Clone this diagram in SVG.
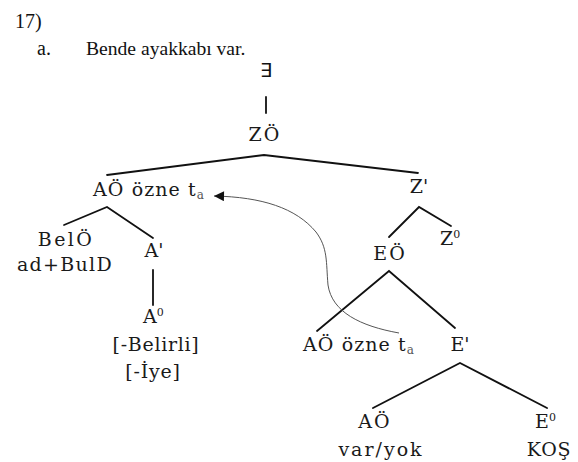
<svg xmlns="http://www.w3.org/2000/svg" width="578" height="462" viewBox="0 0 578 462">
  <style>
    .edge { stroke: #111; stroke-width: 1.8; fill: none; stroke-linecap: round; }
    .move { stroke: #555; stroke-width: 1; fill: none; }
  </style>
  <defs>
    <marker id="tip" viewBox="0 0 10 10" refX="10" refY="5" markerWidth="12" markerHeight="10" markerUnits="userSpaceOnUse" orient="auto">
      <path d="M0,0 L10,5 L0,10 Z" fill="#111"/>
    </marker>
  </defs>

  <rect width="578" height="462" fill="#fff"/>

  <!-- example number and sentence -->
  <g id="example" fill="#111">
    <text x="15" y="28" font-family="Liberation Serif, serif" font-size="20">17)</text>
    <text x="37" y="55" font-family="Liberation Serif, serif" font-size="20">a.</text>
    <text x="86" y="55" font-family="Liberation Serif, serif" font-size="19.6">Bende ayakkabı var.</text>
  </g>

  <!-- tree branches -->
  <g id="edges">
    <line class="edge" x1="266" y1="97" x2="266" y2="113"/>
    <polyline class="edge" points="107,175 264,155 418,173"/>
    <polyline class="edge" points="64,225 107,207 153,238"/>
    <line class="edge" x1="153" y1="270" x2="153" y2="305"/>
    <polyline class="edge" points="389,237 419,207 451,226"/>
    <polyline class="edge" points="317,331 389,271 455,328"/>
    <polyline class="edge" points="373,408 460,363 547,408"/>
    <!-- subject movement -->
    <path class="move" marker-end="url(#tip)" d="M399,333 C360,326 332,312 328,285 C326,262 328,248 316,232 C296,208 262,197 214,196"/>
  </g>

  <g id="exist">
    <text x="266" y="77" text-anchor="middle" font-family="DejaVu Sans, sans-serif" font-size="19" fill="#111">∃</text>
  </g>

  <g fill="#1a1a1a">
    <g id="zo">
      <text x="265" y="141" text-anchor="middle" font-family="DejaVu Serif, serif" font-size="19" letter-spacing="2">ZÖ</text>
    </g>
    <g id="ao-subject">
      <text x="93" y="196" font-family="DejaVu Serif, serif" font-size="19" letter-spacing="1.1">AÖ özne t<tspan dy="3" font-size="12" fill="#555" letter-spacing="0">a</tspan></text>
    </g>
    <g id="z-bar">
      <text x="419" y="193" text-anchor="middle" font-family="DejaVu Serif, serif" font-size="19">Z'</text>
    </g>
    <g id="belo">
      <text x="66" y="246" text-anchor="middle" font-family="DejaVu Serif, serif" font-size="19" letter-spacing="2.4">BelÖ</text>
      <text x="65" y="271" text-anchor="middle" font-family="DejaVu Serif, serif" font-size="19" letter-spacing="1.3">ad+BulD</text>
    </g>
    <g id="a-bar">
      <text x="154" y="257" text-anchor="middle" font-family="DejaVu Serif, serif" font-size="19">A'</text>
    </g>
    <g id="a-head">
      <text x="143" y="323" font-family="DejaVu Serif, serif" font-size="19">A<tspan dy="-7" font-size="11">0</tspan></text>
      <text x="156" y="351" text-anchor="middle" font-family="DejaVu Serif, serif" font-size="19" letter-spacing="0.7">[-Belirli]</text>
      <text x="153" y="378" text-anchor="middle" font-family="DejaVu Serif, serif" font-size="19" letter-spacing="0.8">[-İye]</text>
    </g>
    <g id="eo">
      <text x="390" y="260" text-anchor="middle" font-family="DejaVu Serif, serif" font-size="19" letter-spacing="2">EÖ</text>
    </g>
    <g id="z-head">
      <text x="440" y="245" font-family="DejaVu Serif, serif" font-size="19">Z<tspan dy="-7" font-size="11">0</tspan></text>
    </g>
    <g id="ao-trace">
      <text x="303" y="351" font-family="DejaVu Serif, serif" font-size="19" letter-spacing="1.1">AÖ özne t<tspan dy="3" font-size="12" fill="#555" letter-spacing="0">a</tspan></text>
    </g>
    <g id="e-bar">
      <text x="460" y="351" text-anchor="middle" font-family="DejaVu Serif, serif" font-size="19">E'</text>
    </g>
    <g id="ao-varyok">
      <text x="375" y="428" text-anchor="middle" font-family="DejaVu Serif, serif" font-size="19" letter-spacing="2">AÖ</text>
      <text x="381" y="456" text-anchor="middle" font-family="DejaVu Serif, serif" font-size="19" letter-spacing="2">var/yok</text>
    </g>
    <g id="e-head">
      <text x="535" y="428" font-family="DejaVu Serif, serif" font-size="19">E<tspan dy="-7" font-size="11">0</tspan></text>
      <text x="549" y="456" text-anchor="middle" font-family="DejaVu Serif, serif" font-size="19" letter-spacing="0.8">KOŞ</text>
    </g>
  </g>
</svg>
